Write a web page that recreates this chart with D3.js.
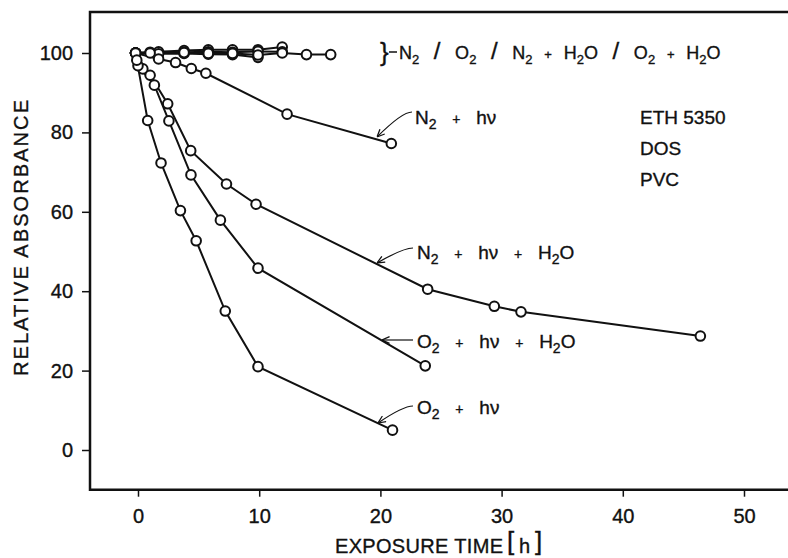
<!DOCTYPE html>
<meta charset="utf-8">
<script src="https://d3js.org/d3.v7.min.js"></script>
<style>
  body { margin: 0; background: #fff; }
  text { font-family: "Liberation Sans", Arial, sans-serif; fill: #111; stroke: #111; stroke-width: 0.35px; }
</style>
<div id="chart"></div>
<script>
// values: exposure time [h] / relative absorbance
var n2_t     = [-0.2, 1.0, 3.8, 5.8, 7.8, 9.9, 11.9];
var n2_v     = [100, 100.2, 100.6, 100.8, 100.8, 100.8, 101.5];
var o2_t     = [-0.2, 1.7, 3.8, 5.8, 7.8, 9.9, 11.9];
var o2_v     = [100, 100.3, 100.2, 100.3, 100.2, 100.4, 100.3];
var n2w_t    = [-0.2, 1.7, 3.8, 5.8, 7.8, 9.9];
var n2w_v    = [100, 99.8, 99.9, 99.7, 99.6, 98.9];
var o2w_t    = [-0.2, 1.0, 3.8, 5.8, 7.8, 9.9, 11.9, 13.9, 15.9];
var o2w_v    = [100, 100, 100.1, 99.9, 99.9, 99.5, 100, 99.6, 99.6];
var n2hv_t   = [-0.2, 1.7, 3.1, 4.4, 5.6, 12.3, 20.9];
var n2hv_v   = [100, 98.5, 97.6, 96.1, 94.9, 84.6, 77.2];
var n2hvw_t  = [-0.2, 0.4, 1.0, 2.45, 4.35, 7.3, 9.74, 23.9, 29.4, 31.6, 46.4];
var n2hvw_v  = [100, 96, 94.4, 87.2, 75.4, 67.0, 61.9, 40.5, 36.2, 34.8, 28.7];
var o2hvw_t  = [-0.2, 0.0, 1.35, 2.55, 4.37, 6.8, 9.9, 23.7];
var o2hvw_v  = [100, 96.8, 91.9, 82.9, 69.3, 57.9, 45.8, 21.2];
var o2hv_t   = [-0.2, -0.1, 0.8, 1.9, 3.5, 4.8, 7.2, 9.9, 21.0];
var o2hv_v   = [100, 98.2, 83, 72.3, 60.3, 52.7, 35, 21, 5];

var xTicks = [0, 10, 20, 30, 40, 50];
var yTicks = [0, 20, 40, 60, 80, 100];

var series = [
  [n2_t, n2_v], [o2_t, o2_v], [n2w_t, n2w_v], [o2w_t, o2w_v],
  [n2hv_t, n2hv_v], [n2hvw_t, n2hvw_v], [o2hvw_t, o2hvw_v], [o2hv_t, o2hv_v]
].map(function (s) {
  return s[0].map(function (t, i) { return {t: t, v: s[1][i]}; });
});

var W = 788, H = 558;
var svg = d3.select("#chart").append("svg")
    .attr("width", W).attr("height", H);

var x = d3.scaleLinear().domain([0, 50]).range([138, 744]);
var y = d3.scaleLinear().domain([0, 100]).range([450, 53]);
var fLeft = x(-3.96), fRight = W + 2, fTop = y(110.3), fBottom = y(-10);

// frame (open on the right, as in the original)
svg.append("path")
  .attr("d", "M" + fRight + "," + fTop + "H" + fLeft + "V" + fBottom + "H" + fRight)
  .attr("fill", "none").attr("stroke", "#111").attr("stroke-width", 2.5);

// axes
var xAxis = svg.append("g")
  .attr("transform", "translate(0," + fBottom + ")")
  .call(d3.axisBottom(x).tickValues(xTicks).tickSize(7).tickPadding(12));
var yAxis = svg.append("g")
  .attr("transform", "translate(" + fLeft + ",0)")
  .call(d3.axisLeft(y).tickValues(yTicks).tickSize(8).tickPadding(9));
[xAxis, yAxis].forEach(function (a) {
  a.select(".domain").remove();
  a.selectAll("line").attr("stroke", "#111").attr("stroke-width", 1.5);
  a.selectAll("text").style("font-size", "20px").attr("fill", "#111")
    .style("font-family", '"Liberation Sans", Arial, sans-serif');
});

// axis titles
svg.append("text")
  .attr("transform", "translate(28,238) rotate(-90)")
  .attr("text-anchor", "middle")
  .style("font-size", "20px")
  .attr("textLength", 276).attr("lengthAdjust", "spacing")
  .text("RELATIVE ABSORBANCE");

svg.append("text")
  .attr("x", 335).attr("y", 553)
  .style("font-size", "20px")
  .attr("textLength", 168).attr("lengthAdjust", "spacing")
  .text("EXPOSURE TIME");
svg.append("text").attr("x", 507).attr("y", 550).style("font-size", "26px").text("[");
svg.append("text").attr("x", 519).attr("y", 553).style("font-size", "20px").text("h");
svg.append("text").attr("x", 535).attr("y", 550).style("font-size", "26px").text("]");

// lines and points
var line = d3.line().x(function (d) { return x(d.t); }).y(function (d) { return y(d.v); });
svg.append("g").selectAll("path").data(series).enter().append("path")
  .attr("d", line).attr("fill", "none").attr("stroke", "#111").attr("stroke-width", 2);
series.forEach(function (s) {
  svg.append("g").selectAll("circle").data(s).enter().append("circle")
    .attr("cx", function (d) { return x(d.t); })
    .attr("cy", function (d) { return y(d.v); })
    .attr("r", 4.8)
    .attr("fill", "#fff").attr("stroke", "#111").attr("stroke-width", 2);
});

// labels with subscripts: "s" = subscript, "p" = small plus, "l" = large slash
function label(px, py, parts, fs, ws) {
  var t = svg.append("text").attr("x", px).attr("y", py)
    .style("font-size", fs + "px").style("word-spacing", ws + "px")
    .style("white-space", "pre");
  var low = false;
  parts.forEach(function (p) {
    var s = t.append("tspan").text(p[0]);
    var k = p[1] || "";
    var dy = 0;
    if (k.indexOf("s") >= 0) { s.style("font-size", (fs - 5) + "px"); dy = low ? 0 : 5; low = true; }
    else if (low) { dy = -5; low = false; }
    if (k.indexOf("p") >= 0) s.style("font-size", (fs - 5) + "px");
    if (k.indexOf("l") >= 0) s.style("font-size", (fs + 6) + "px");
    if (dy) s.attr("dy", dy);
  });
  return t;
}

label(399, 59, [["N"], ["2", "s"], ["  "], ["/", "l"], ["  O"], ["2", "s"], ["  "], ["/", "l"],
  ["  N"], ["2", "s"], ["  +  ", "p"], ["H"], ["2", "s"], ["O"], ["  "], ["/", "l"],
  ["  O"], ["2", "s"], ["  +  ", "p"], ["H"], ["2", "s"], ["O"]], 18, 2.3);
svg.append("text").attr("x", 380).attr("y", 61).style("font-size", "26px").text("}");
svg.append("line").attr("x1", 389).attr("x2", 397).attr("y1", 52).attr("y2", 52)
  .attr("stroke", "#111").attr("stroke-width", 1.5);

label(415, 124, [["N"], ["2", "s"], ["  +  ", "p"], ["hν"]], 19, 4);
label(417, 259, [["N"], ["2", "s"], ["  +  ", "p"], ["hν"], ["  +  ", "p"], ["H"], ["2", "s"], ["O"]], 19, 4);
label(417, 348, [["O"], ["2", "s"], ["  +  ", "p"], ["hν"], ["  +  ", "p"], ["H"], ["2", "s"], ["O"]], 19, 4);
label(417, 414, [["O"], ["2", "s"], ["  +  ", "p"], ["hν"]], 19, 4);

svg.append("text").attr("x", 640).attr("y", 124).style("font-size", "19px").text("ETH 5350");
svg.append("text").attr("x", 640).attr("y", 155).style("font-size", "19px").text("DOS");
svg.append("text").attr("x", 640).attr("y", 186).style("font-size", "19px").text("PVC");

// leader arrows
svg.append("defs").append("marker")
  .attr("id", "arr").attr("viewBox", "0 0 10 10").attr("refX", 10).attr("refY", 5)
  .attr("markerWidth", 7).attr("markerHeight", 7).attr("orient", "auto")
  .append("path").attr("d", "M1,1L10,5L1,9").attr("fill", "none")
  .attr("stroke", "#111").attr("stroke-width", 1.5);

var leaders = [
  "M412,112Q402,112 377,137",
  "M413,248Q403,248 377,263",
  "M413,340L382,340",
  "M413,406Q403,406 378,423"
];
svg.append("g").selectAll("path").data(leaders).enter().append("path")
  .attr("d", function (d) { return d; })
  .attr("fill", "none").attr("stroke", "#111").attr("stroke-width", 1.2)
  .attr("marker-end", "url(#arr)");
</script>
